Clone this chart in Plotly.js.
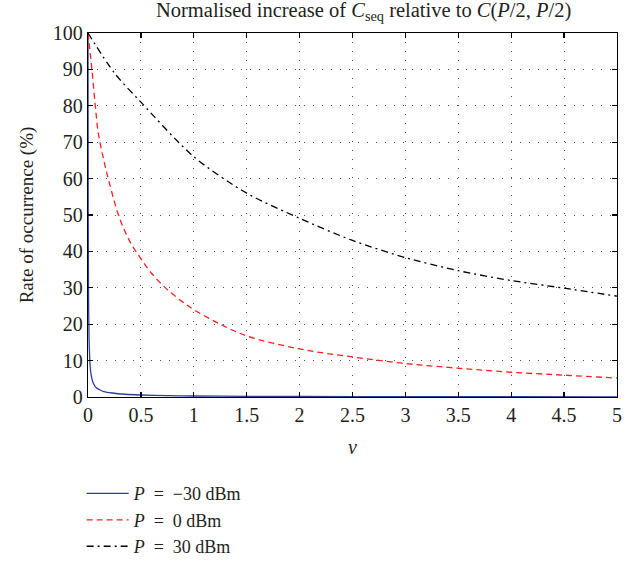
<!DOCTYPE html>
<html>
<head>
<meta charset="utf-8">
<script src="https://cdn.plot.ly/plotly-3.0.1.min.js"></script>
<style>html,body{margin:0;padding:0;background:#fff;}#chart{width:638px;height:564px;}</style>
</head>
<body>
<div id="chart"></div>
<script>
// Data
const nuBlue = [0, 0.002, 0.005, 0.01, 0.02, 0.03, 0.05, 0.08, 0.11, 0.15, 0.23, 0.35, 0.5, 0.75, 1, 1.5, 2, 3, 4, 5];
const valBlue = [100, 50, 28, 16, 8.6, 6, 3.8, 2.5, 2.0, 1.5, 1.1, 0.75, 0.55, 0.38, 0.28, 0.19, 0.14, 0.09, 0.07, 0.06];

const nuRed = [0, 0.037, 0.069, 0.1, 0.15, 0.2, 0.3, 0.4, 0.5, 0.6, 0.75, 0.9, 1, 1.25, 1.5, 2, 2.5, 3, 3.5, 4, 4.5, 5];
const valRed = [100, 90, 80, 72, 65, 59, 49, 42.5, 38, 34, 29.5, 26, 24, 20, 16.8, 13.2, 11, 9.2, 7.9, 6.8, 6.0, 5.2];

const nuBlack = [0, 0.25, 0.5, 1, 1.5, 2, 2.5, 3, 3.5, 4, 4.5, 5];
const valBlack = [100, 89, 81, 66, 56, 49.1, 43, 38.3, 34.7, 32, 29.9, 27.7];

const seriesNames = ["<i>P</i>&nbsp; =&nbsp; −30&nbsp;dBm", "<i>P</i>&nbsp; =&nbsp; 0&nbsp;dBm", "<i>P</i>&nbsp; =&nbsp; 30&nbsp;dBm"];
const xTicks = [0, 0.5, 1, 1.5, 2, 2.5, 3, 3.5, 4, 4.5, 5];
const yTicks = [0, 10, 20, 30, 40, 50, 60, 70, 80, 90, 100];

const font = "Liberation Serif, Times New Roman, serif";
const txt = "#231f20";

const traces = [
  {x: nuBlue, y: valBlue, name: seriesNames[0], mode: "lines", line: {color: "#2a3f9e", width: 1.3, shape: "spline", smoothing: 0.6}},
  {x: nuRed, y: valRed, name: seriesNames[1], mode: "lines", line: {color: "#ff1f1f", width: 1.3, dash: "6px,4px", shape: "spline", smoothing: 1}},
  {x: nuBlack, y: valBlack, name: seriesNames[2], mode: "lines", line: {color: "#000000", width: 1.3, dash: "7px,4px,2px,4px", shape: "spline", smoothing: 0.8}}
];

const axisCommon = {
  showline: true, linecolor: "#000", linewidth: 1.2, mirror: "ticks",
  ticks: "inside", ticklen: 5, tickcolor: "#000", tickwidth: 1.2,
  showgrid: true, gridcolor: "#555", gridwidth: 1, griddash: "1px,8px",
  zeroline: false, tickfont: {family: font, size: 20, color: txt}
};

const layout = {
  width: 638, height: 564,
  margin: {l: 88, r: 21, t: 33, b: 167, autoexpand: false},
  paper_bgcolor: "#fff", plot_bgcolor: "#fff",
  font: {family: font, color: txt},
  title: {text: "Normalised increase of <i>C</i><sub>seq</sub> relative to <i>C</i>(<i>P</i>/2, <i>P</i>/2)",
          font: {family: font, size: 20.5, color: txt}, x: 0.57, xanchor: "center", y: 0.995, yanchor: "top"},
  xaxis: Object.assign({}, axisCommon, {range: [0, 5], tickvals: xTicks, ticktext: xTicks.map(String),
          title: {text: "<i>ν</i>", font: {family: font, size: 20, color: txt}, standoff: 14}}),
  yaxis: Object.assign({}, axisCommon, {range: [0, 100], tickvals: yTicks, ticktext: yTicks.map(String),
          title: {text: "Rate of occurrence (%)", font: {family: font, size: 19, color: txt}, standoff: 14}}),
  showlegend: true,
  legend: {x: -0.012, xanchor: "left", y: -0.215, yanchor: "top", bgcolor: "rgba(0,0,0,0)",
           font: {family: font, size: 18, color: txt}, itemwidth: 42, tracegroupgap: 0}
};

Plotly.newPlot("chart", traces, layout, {displayModeBar: false, staticPlot: true});
</script>
</body>
</html>
